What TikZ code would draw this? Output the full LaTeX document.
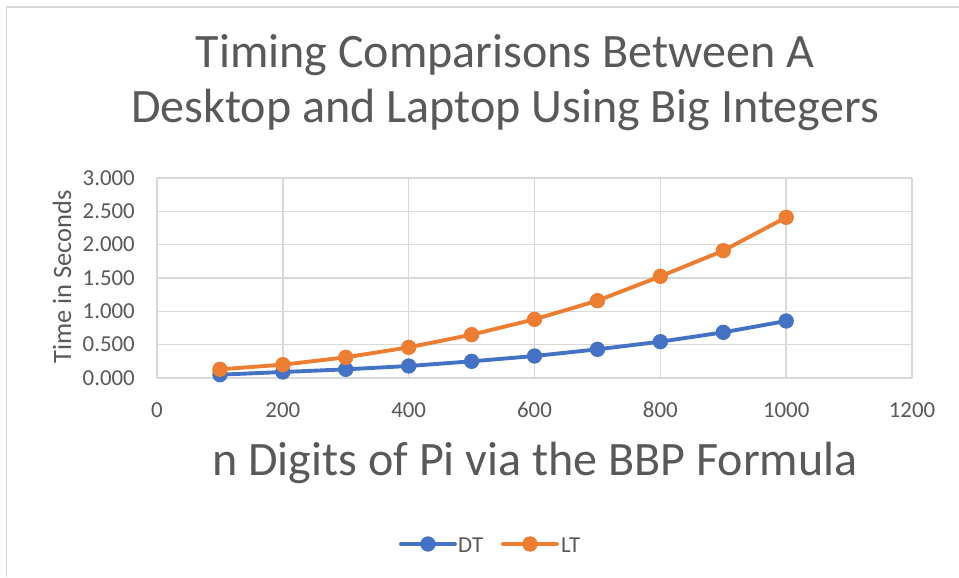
\documentclass[tikz,border=0pt]{standalone}
\usepackage{fontspec}
\setmainfont{Carlito}
\usetikzlibrary{positioning,calc}
\definecolor{txtgray}{HTML}{595959}
\definecolor{gridgray}{HTML}{D9D9D9}
\definecolor{dtblue}{HTML}{4472C4}
\definecolor{ltorange}{HTML}{ED7D31}

\begin{document}
\begin{tikzpicture}[x=0.03cm,y=-0.03cm,
    every node/.style={text=txtgray,inner sep=0pt},
    ticklbl/.style={font=\fontsize{19.5}{22}\selectfont},
    grid/.style={draw=gridgray,line width=1.3pt},
    series/.style={line width=3.3pt,line cap=round,line join=round}]
  \useasboundingbox (0,0) rectangle (959,577);
  \fill[white] (0,0) rectangle (959,577);
  % chart frame (cut on the right and at the bottom)
  \draw[gridgray,line width=1.6pt] (6.5,577) -- (6.5,7) -- (959,7);
  % titles
  \node[font=\fontsize{41}{47}\selectfont,align=center] (title) at (505,83)
    {Timing Comparisons Between A\\Desktop and Laptop Using Big Integers};
  \node[font=\fontsize{41}{47}\selectfont] (xtitle) at (535,463) {n Digits of Pi via the BBP Formula};
  \node[font=\fontsize{22.6}{26}\selectfont,rotate=90] (ytitle) at (62,277) {Time in Seconds};
  % plot area in data units
  \begin{scope}[shift={(157,378)},x=0.018875cm,y=2cm]
    \foreach \t in {0,0.5,...,3.0}
      \draw[grid] (0,\t) -- (1200,\t);
    \foreach \n in {0,200,...,1200}
      \draw[grid] (\n,0) -- (\n,3);
    \foreach \t/\lbl [count=\k] in {0/0.000,0.5/0.500,1/1.000,1.5/1.500,2/2.000,2.5/2.500,3/3.000}
      \node[ticklbl,anchor=east] (yt\k) at (-22/0.62917,\t) {\lbl};
    \foreach \n in {0,200,...,1200}
      \node[ticklbl] (xt\n) at (\n,-32/66.667) {\n};
    % data
    \foreach \n/\t [count=\i] in {100/0.05,200/0.09,300/0.13,400/0.18,500/0.25,
        600/0.33,700/0.43,800/0.545,900/0.685,1000/0.855}
      \coordinate (dt\i) at (\n,\t);
    \foreach \n/\t [count=\i] in {100/0.13,200/0.20,300/0.31,400/0.46,500/0.65,
        600/0.88,700/1.16,800/1.525,900/1.91,1000/2.41}
      \coordinate (lt\i) at (\n,\t);
    \draw[series,dtblue] (dt1) \foreach \i in {2,...,10}{ -- (dt\i)};
    \draw[series,ltorange] (lt1) \foreach \i in {2,...,10}{ -- (lt\i)};
    \foreach \i in {1,...,10}{
      \fill[dtblue] (dt\i) circle[radius=0.23cm];
      \fill[ltorange] (lt\i) circle[radius=0.23cm];
    }
  \end{scope}
  % legend
  \coordinate (dtA) at (401,544);
  \coordinate (dtB) at (455,544);
  \coordinate (ltA) at (503,544);
  \coordinate (ltB) at (557,544);
  \draw[series,dtblue] (dtA) -- (dtB);
  \fill[dtblue] ($(dtA)!0.5!(dtB)$) circle[radius=0.23cm];
  \draw[series,ltorange] (ltA) -- (ltB);
  \fill[ltorange] ($(ltA)!0.5!(ltB)$) circle[radius=0.23cm];
  \node[ticklbl,anchor=west] (dtlbl) at (458,545) {DT};
  \node[ticklbl,anchor=west] (ltlbl) at (561,545) {LT};
\end{tikzpicture}
\end{document}
